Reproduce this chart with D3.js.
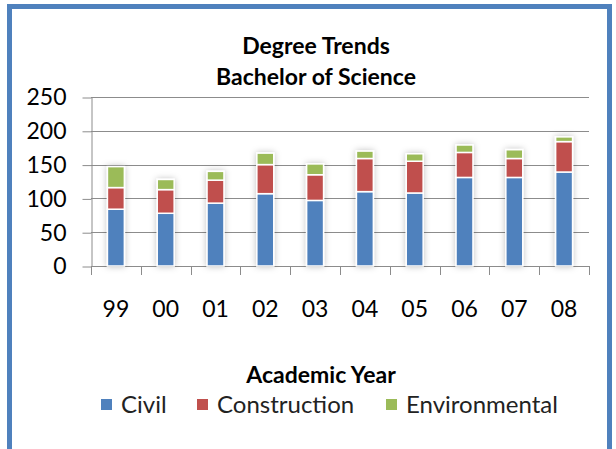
<!DOCTYPE html>
<html>
<head>
<meta charset="utf-8">
<script src="https://cdn.jsdelivr.net/npm/d3@7"></script>
<style>
  body { margin: 0; background: #fff; }
  text { font-family: Lato, "Open Sans", sans-serif; }
</style>
</head>
<body>
<script>
// Chart data
const years = ["99", "00", "01", "02", "03", "04", "05", "06", "07", "08"];
const civil = [84, 78, 93, 107, 97, 110, 108, 131, 131, 139];
const construction = [32, 35, 34, 43, 38, 49, 47, 37, 28, 45];
const environmental = [31, 15, 13, 17, 16, 11, 11, 11, 13, 7];
const seriesNames = ["Civil", "Construction", "Environmental"];
const colors = ["#4f81bd", "#c0504d", "#9bbb59"];
const yTicks = [0, 50, 100, 150, 200, 250];

const width = 616;
const height = 449;

const svg = d3.select("body")
  .append("svg")
  .attr("width", width)
  .attr("height", height);

// soft glow behind bars
const defs = svg.append("defs");
const f = defs.append("filter").attr("id", "glow")
  .attr("x", "-50%").attr("y", "-20%").attr("width", "200%").attr("height", "140%");
f.append("feDropShadow")
  .attr("dx", 0).attr("dy", 0)
  .attr("stdDeviation", 3)
  .attr("flood-color", "#000")
  .attr("flood-opacity", 0.25);

// outer frame
svg.append("rect")
  .attr("x", 9.5).attr("y", 6.5)
  .attr("width", 600).attr("height", 460)
  .attr("fill", "#fff")
  .attr("stroke", "#4f81bd")
  .attr("stroke-width", 5);

// scales
const x = d3.scaleBand()
  .domain(years)
  .range([91, 589])
  .paddingInner(0.66)
  .paddingOuter(0.33);

const y = d3.scaleLinear()
  .domain([0, 250])
  .range([266, 97]);

// gridlines
svg.append("g")
  .selectAll("line")
  .data(yTicks.slice(1))
  .enter()
  .append("line")
  .attr("x1", 91).attr("x2", 589)
  .attr("y1", d => Math.round(y(d)) + 0.5)
  .attr("y2", d => Math.round(y(d)) + 0.5)
  .attr("stroke", "#8c8c8c")
  .attr("stroke-width", 1);

// y axis
const yAxis = svg.append("g")
  .attr("transform", "translate(91.5,0.5)")
  .call(d3.axisLeft(y).tickValues(yTicks).tickSize(9).tickPadding(16).tickSizeOuter(0));
yAxis.select(".domain").attr("stroke", "#8c8c8c");
yAxis.selectAll(".tick line").attr("stroke", "#8c8c8c");
yAxis.selectAll(".tick text")
  .attr("font-size", 23)
  .attr("fill", "#000")
  .style("font-family", "Lato, sans-serif");

// x axis (ticks at category boundaries)
const xAxis = svg.append("g");
xAxis.append("line")
  .attr("x1", 91).attr("x2", 589)
  .attr("y1", 266.5).attr("y2", 266.5)
  .attr("stroke", "#8c8c8c");
xAxis.selectAll(".xtick")
  .data(d3.range(years.length + 1))
  .enter()
  .append("line")
  .attr("class", "xtick")
  .attr("x1", i => Math.round(x.range()[0] + i * x.step()) + 0.5)
  .attr("x2", i => Math.round(x.range()[0] + i * x.step()) + 0.5)
  .attr("y1", 266).attr("y2", 275)
  .attr("stroke", "#8c8c8c");
xAxis.selectAll(".xlabel")
  .data(years)
  .enter()
  .append("text")
  .attr("class", "xlabel")
  .attr("x", d => x(d) + x.bandwidth() / 2)
  .attr("y", 317)
  .attr("text-anchor", "middle")
  .attr("font-size", 23)
  .attr("fill", "#000")
  .text(d => d);

// stacked bars
const rows = years.map((yr, i) => ({
  year: yr,
  Civil: civil[i],
  Construction: construction[i],
  Environmental: environmental[i]
}));
const stacked = d3.stack().keys(seriesNames)(rows);

const barG = svg.append("g").attr("filter", "url(#glow)");
stacked.forEach((layer, li) => {
  barG.append("g")
    .selectAll("rect")
    .data(layer)
    .enter()
    .append("rect")
    .attr("x", d => x(d.data.year))
    .attr("width", x.bandwidth())
    .attr("y", d => y(d[1]))
    .attr("height", d => y(d[0]) - y(d[1]))
    .attr("fill", colors[li])
    .attr("stroke", "#fff")
    .attr("stroke-width", 1.5);
});

// titles
svg.append("text")
  .attr("x", 316).attr("y", 54)
  .attr("text-anchor", "middle")
  .attr("font-size", 23).attr("font-weight", "bold")
  .text("Degree Trends");
svg.append("text")
  .attr("x", 316).attr("y", 85)
  .attr("text-anchor", "middle")
  .attr("font-size", 23).attr("font-weight", "bold")
  .text("Bachelor of Science");

svg.append("text")
  .attr("x", 321).attr("y", 383)
  .attr("text-anchor", "middle")
  .attr("font-size", 23).attr("font-weight", "bold")
  .text("Academic Year");

// legend
const legendX = [101, 197, 386];
const legend = svg.append("g");
seriesNames.forEach((name, i) => {
  legend.append("rect")
    .attr("x", legendX[i]).attr("y", 399)
    .attr("width", 11).attr("height", 11)
    .attr("fill", colors[i]);
  legend.append("text")
    .attr("x", legendX[i] + 20).attr("y", 413)
    .attr("font-size", 24)
    .attr("fill", "#222")
    .text(name);
});
</script>
</body>
</html>
